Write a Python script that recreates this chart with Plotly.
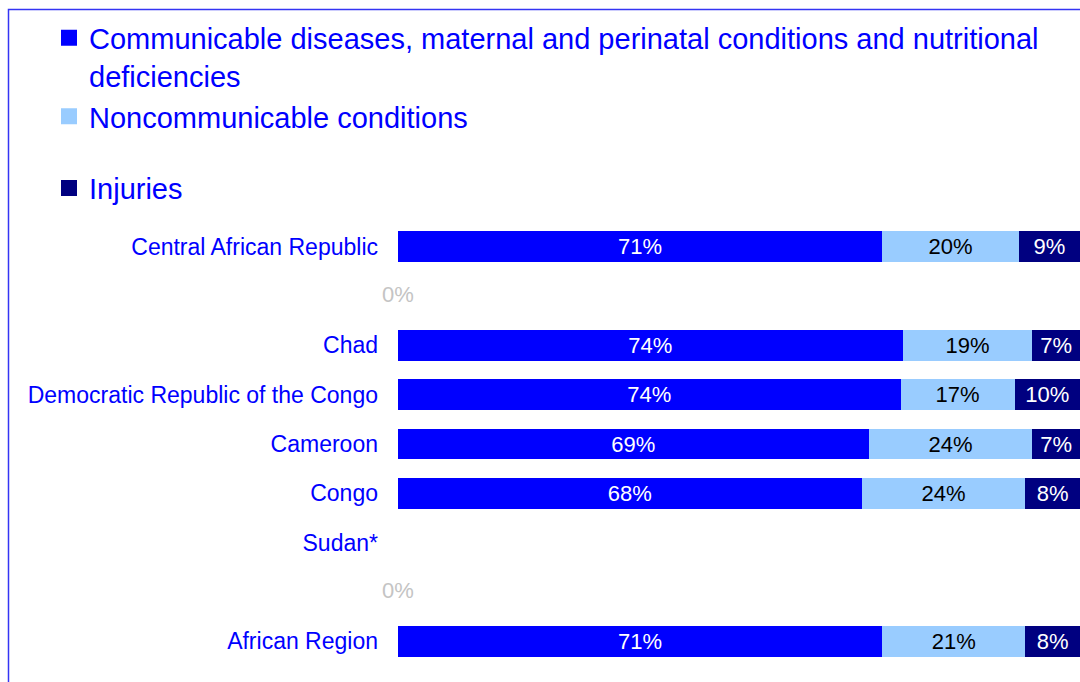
import plotly.graph_objects as go

# rows from top to bottom; blank rows keep the gaps of the original chart
categories = ["Central African Republic", " ", "Chad", "Democratic Republic of the Congo",
              "Cameroon", "Congo", "Sudan*", "  ", "African Region"]
communicable = [71, None, 74, 73.7, 69, 68, None, None, 71]
noncommunicable = [20, None, 19, 16.7, 24, 24, None, None, 21]
injuries = [9, None, 7, 9.6, 7, 8, None, None, 8]
zero_rows = [" ", "  "]
zero_values = [0, 0]

series = [
    ("Communicable diseases, maternal and perinatal conditions and nutritional<br>deficiencies",
     communicable, "#0000FF", "white", "a"),
    ("Noncommunicable conditions", noncommunicable, "#99CCFF", "black", "a"),
    ("Injuries", injuries, "#000080", "white", "b"),
]

W, H = 1080, 682
L, R, T, B = 398, 0, 222, 16
pw, ph = W - L - R, H - T - B

fig = go.Figure()
for name, vals, color, tcolor, group in series:
    fig.add_trace(go.Bar(
        y=categories, x=vals, name=name, orientation="h",
        marker=dict(color=color, line=dict(width=0)),
        texttemplate="%{x:.0f}%",
        textposition="inside", insidetextanchor="middle", textangle=0,
        textfont=dict(color=tcolor, size=22),
        showlegend=False, hoverinfo="x+y",
    ))
    # legend-only entry so the square can be bigger than the bar default
    fig.add_trace(go.Scatter(
        x=[None], y=[None], mode="markers", name=name, legendgroup=group,
        marker=dict(symbol="square", size=16, color=color, line=dict(width=0)),
    ))

fig.add_trace(go.Scatter(
    y=zero_rows, x=zero_values, mode="text", text=["0%", "0%"],
    textfont=dict(color="#C4C4C4", size=22), cliponaxis=False,
    showlegend=False, hoverinfo="skip",
))

# blue frame (cut off on the right and bottom like the source image)
fig.add_shape(type="rect", xref="paper", yref="paper",
              x0=(8.5 - L) / pw, x1=1.2, y0=-0.2, y1=(H - B - 9.5) / ph,
              line=dict(color="#3434F4", width=1.5), layer="above")

fig.update_layout(
    width=W, height=H,
    barmode="stack", bargap=0.38,
    plot_bgcolor="white", paper_bgcolor="white",
    font=dict(family="Liberation Sans, Arial, sans-serif", color="#0000FF"),
    margin=dict(l=L, r=R, t=T, b=B),
    uniformtext=dict(minsize=22, mode="show"),
    legend=dict(
        x=(49 - L) / pw, xanchor="left",
        y=(H - B - 12.5) / ph, yanchor="top",
        font=dict(size=29, color="#0000FF"),
        valign="top", traceorder="grouped", tracegroupgap=31,
        itemsizing="trace",
        bgcolor="rgba(0,0,0,0)",
    ),
    showlegend=True,
)
fig.update_xaxes(range=[0, 100], showticklabels=False, showgrid=False,
                 zeroline=False, fixedrange=True)
fig.update_yaxes(categoryorder="array", categoryarray=categories, autorange="reversed",
                 showgrid=False, zeroline=False, ticks="",
                 tickfont=dict(size=23, color="#0000FF"), ticklabelstandoff=19)

fig.write_html("out.html", config=dict(displayModeBar=False),
               post_script="document.body.style.margin='0';document.body.style.overflow='hidden';")
